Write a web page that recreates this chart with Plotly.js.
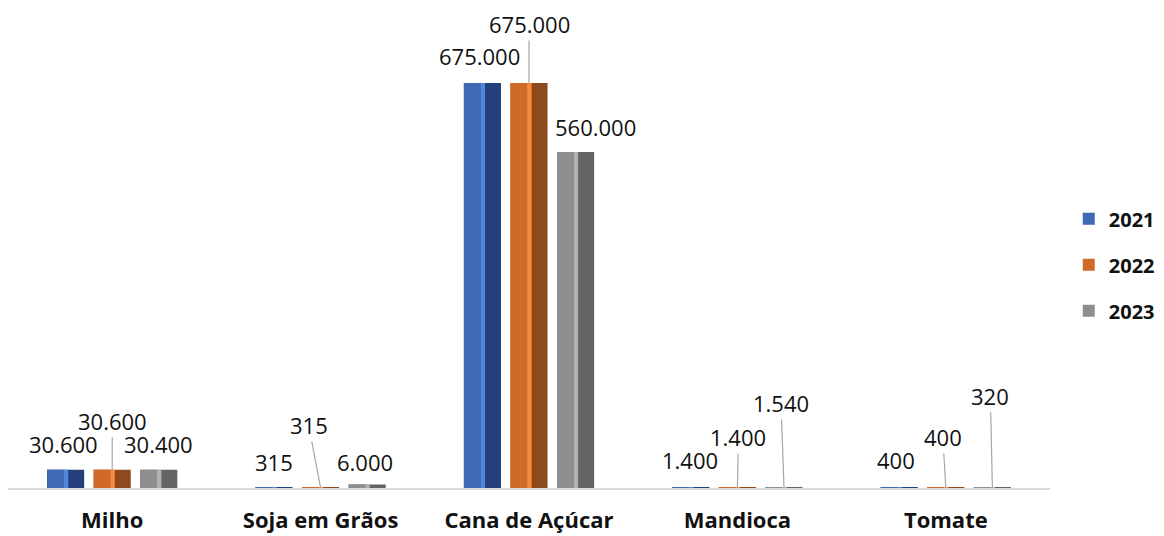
<!DOCTYPE html>
<html>
<head>
<meta charset="utf-8">
<script src="https://cdn.plot.ly/plotly-3.0.1.min.js"></script>
<style>html,body{margin:0;padding:0;background:#fff;}#chart{width:1164px;height:536px;}</style>
</head>
<body>
<div id="chart"></div>
<script>
// ---- data ----
const categories = ['Milho', 'Soja em Grãos', 'Cana de Açúcar', 'Mandioca', 'Tomate'];
const years = ['2021', '2022', '2023'];
const v2021 = [30600, 315, 675000, 1400, 400];
const v2022 = [30600, 315, 675000, 1400, 400];
const v2023 = [30400, 6000, 560000, 1540, 320];

// ---- style ----
const seriesValues = [v2021, v2022, v2023];
const darkColors = ['#22407a', '#8c4a1d', '#646464'];
const midColors = ['#3f69b4', '#d06a28', '#8e8e8e'];
const lightColors = ['#5485dc', '#f78b3b', '#b2b2b2'];
const barStep = 0.2235, barWidth = 0.178;
const fontFam = '"Open Sans", "Noto Sans", sans-serif';

// label placement (pixel offsets from the bar top)
// [dx, dy, leader [ax, ay] or null]
const labelPos = [
  [[-2, 26, null], [0, 26, null], [-3, 27, null], [-1, 27, null], [-3, 28, null]],
  [[0, 0, [0, -49]], [0, 0, [-12, -63]], [0, 0, [0, -59]], [0, 0, [1, -50]], [0, 0, [-3, -51]]],
  [[0, 26, null], [-2, 22, null], [20, 25, null], [0, 0, [-3, -84]], [0, 0, [-2, -92]]]
];

function fmt(n) {
  return String(n).replace(/\B(?=(\d{3})+(?!\d))/g, '.');
}

const traces = [];
const annotations = [];
years.forEach((yr, s) => {
  const vals = seriesValues[s];
  const off = (s - 1) * barStep - barWidth / 2;
  traces.push({
    type: 'bar', x: categories, y: vals, name: yr, legendgroup: yr, showlegend: false,
    offset: off, width: barWidth,
    marker: {color: darkColors[s], line: {width: 0}},
    hoverinfo: 'skip'
  });
  traces.push({
    type: 'bar', x: categories, y: vals, name: yr, legendgroup: yr, showlegend: true,
    offset: off, width: barWidth * 0.45,
    marker: {color: midColors[s], line: {width: 0}},
    hovertemplate: '%{x}<br>' + yr + ': %{y}<extra></extra>'
  });
  traces.push({
    type: 'bar', x: categories, y: vals, name: yr, legendgroup: yr, showlegend: false,
    offset: off + barWidth * 0.45, width: barWidth * 0.12,
    marker: {color: lightColors[s], line: {width: 0}},
    hoverinfo: 'skip'
  });
  vals.forEach((v, i) => {
    const p = labelPos[s][i];
    const base = {
      x: i + (s - 1) * barStep, y: v, xref: 'x', yref: 'y',
      text: fmt(v), font: {family: fontFam, size: 22, color: '#111'}
    };
    if (p[2]) {
      annotations.push(Object.assign(base, {
        showarrow: true, ax: p[2][0], ay: p[2][1], arrowhead: 0,
        arrowcolor: '#a6a6a6', arrowwidth: 1.2, standoff: 0
      }));
    } else {
      annotations.push(Object.assign(base, {
        showarrow: false, xshift: p[0], yshift: p[1], yanchor: 'middle'
      }));
    }
  });
});

const layout = {
  width: 1164, height: 536,
  margin: {l: 8, r: 114, t: 8, b: 48, autoexpand: false},
  paper_bgcolor: '#fff', plot_bgcolor: '#fff',
  barmode: 'overlay',
  showlegend: true,
  legend: {
    x: 1.018, xanchor: 'left', y: 0.465, yanchor: 'middle',
    traceorder: 'grouped', tracegroupgap: 17, itemwidth: 30,
    font: {family: fontFam, size: 20, color: '#111', weight: 'bold'}
  },
  xaxis: {
    type: 'category', showgrid: false, zeroline: false,
    showline: true, linecolor: '#d9d9d9', linewidth: 2,
    ticks: '', ticklabelstandoff: 12,
    tickfont: {family: fontFam, size: 22, color: '#111', weight: 'bold'},
    fixedrange: true
  },
  yaxis: {
    range: [0, 800000], visible: false, showgrid: false, zeroline: false, fixedrange: true
  },
  annotations: annotations
};

Plotly.newPlot('chart', traces, layout, {displayModeBar: false});
</script>
</body>
</html>
